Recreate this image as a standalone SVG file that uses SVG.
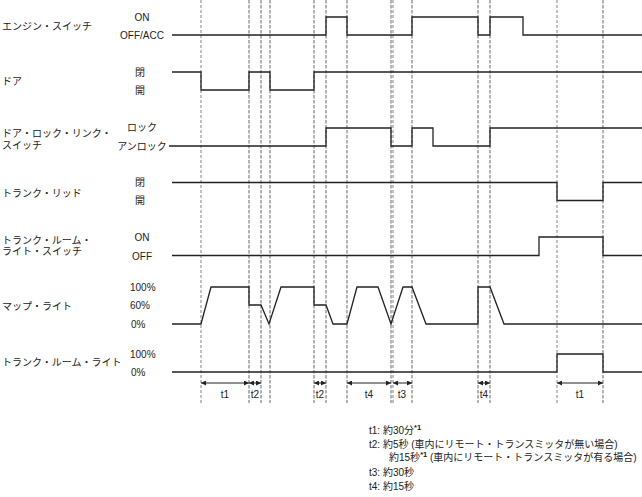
<svg xmlns="http://www.w3.org/2000/svg" width="642" height="497" viewBox="0 0 642 497">
<style>
text{font-family:"Liberation Sans","Noto Sans CJK JP",sans-serif;font-size:10px;fill:#222}
.mid{text-anchor:middle}
.sig{fill:none;stroke:#222;stroke-width:1.3}
.gd{stroke:#666;stroke-width:1;stroke-dasharray:3.5 1.5}
.gl{stroke:#bbb;stroke-width:1.8;stroke-dasharray:3 2}
.arr{stroke:#222;stroke-width:1;marker-start:url(#ah);marker-end:url(#ah)}
.sup{font-size:7.5px;font-weight:bold}
</style>
<defs>
<marker id="ah" viewBox="0 0 6 6" refX="6" refY="3" markerWidth="5" markerHeight="5" orient="auto-start-reverse" markerUnits="userSpaceOnUse">
<path d="M0,0 L6,3 L0,6 Z" fill="#222"/>
</marker>
</defs>
<rect width="642" height="497" fill="#fff"/>
<g id="guides">
<line class="gl" x1="201" y1="0" x2="201" y2="403"/>
<line class="gd" x1="249" y1="0" x2="249" y2="403"/>
<line class="gd" x1="261" y1="0" x2="261" y2="403"/>
<line class="gd" x1="270" y1="0" x2="270" y2="403"/>
<line class="gd" x1="314" y1="0" x2="314" y2="403"/>
<line class="gd" x1="326" y1="0" x2="326" y2="403"/>
<line class="gd" x1="347" y1="0" x2="347" y2="403"/>
<line class="gd" x1="391" y1="0" x2="391" y2="403"/>
<line class="gl" x1="393" y1="0" x2="393" y2="403"/>
<line class="gd" x1="412" y1="0" x2="412" y2="403"/>
<line class="gd" x1="478" y1="0" x2="478" y2="403"/>
<line class="gd" x1="490" y1="0" x2="490" y2="403"/>
<line class="gl" x1="557" y1="0" x2="557" y2="403"/>
<line class="gd" x1="603" y1="0" x2="603" y2="403"/>
</g>
<g id="engine-switch">
<text x="2" y="29.5">エンジン・スイッチ</text>
<text class="mid" x="142" y="20.5">ON</text>
<text class="mid" x="142" y="38.5">OFF/ACC</text>
<path class="sig" d="M172,35 H326 V17 H347 V35 H412 V17 H478 V35 H490 V17 H523 V35 H642"/>
</g>
<g id="door">
<text x="2" y="84.5">ドア</text>
<text class="mid" x="140" y="75.5">閉</text>
<text class="mid" x="140" y="93.5">開</text>
<path class="sig" d="M172,72 H201 V90 H249 V72 H270 V90 H314 V72 H642"/>
</g>
<g id="door-lock-switch">
<text x="2" y="136.5">ドア・ロック・リンク・</text>
<text x="2" y="148.5">スイッチ</text>
<text class="mid" x="142" y="131">ロック</text>
<text class="mid" x="142" y="149.5">アンロック</text>
<path class="sig" d="M169,146 H326 V128 H391 V146 H412 V128 H433 V146 H490 V128 H642"/>
</g>
<g id="trunk-lid">
<text x="2" y="196.5">トランク・リッド</text>
<text class="mid" x="140" y="185.5">閉</text>
<text class="mid" x="140" y="204">開</text>
<path class="sig" d="M172,182.5 H557 V200.5 H603 V182.5 H642"/>
</g>
<g id="trunk-room-light-switch">
<text x="2" y="243.5">トランク・ルーム・</text>
<text x="2" y="254.5">ライト・スイッチ</text>
<text class="mid" x="142" y="241">ON</text>
<text class="mid" x="142" y="259.5">OFF</text>
<path class="sig" d="M172,255.5 H539 V237 H603 V255.5 H642"/>
</g>
<g id="map-light">
<text x="2" y="309.5">マップ・ライト</text>
<text x="130" y="291">100%</text>
<text x="130" y="309">60%</text>
<text x="131" y="327.5">0%</text>
<path class="sig" d="M172,324 L201,324 L211,287 L249,287 L249,305 L261,305 L269,324 L281,287 L314,287 L314,305 L326,305 L333,324 L347,324 L357,287 L378,287 L391,324 L403,287 L412,287 L426,324 L478,324 L478,287 L490,287 L504,324 L642,324"/>
</g>
<g id="trunk-room-light">
<text x="2" y="366">トランク・ルーム・ライト</text>
<text x="130" y="357.5">100%</text>
<text x="131" y="375.5">0%</text>
<path class="sig" d="M172,372 H557 V354 H603 V372 H642"/>
</g>
<g id="connectors">
<line class="arr" x1="201" y1="383" x2="249" y2="383"/>
<line class="arr" x1="249" y1="383" x2="261" y2="383"/>
<line class="arr" x1="314" y1="383" x2="326" y2="383"/>
<line class="arr" x1="347" y1="383" x2="391" y2="383"/>
<line class="arr" x1="393" y1="383" x2="412" y2="383"/>
<line class="arr" x1="478" y1="383" x2="490" y2="383"/>
<line class="arr" x1="557" y1="383" x2="603" y2="383"/>
</g>
<g id="timing-labels">
<text class="mid" x="225" y="397.5">t1</text>
<text class="mid" x="255" y="397.5">t2</text>
<text class="mid" x="320" y="397.5">t2</text>
<text class="mid" x="369" y="397.5">t4</text>
<text class="mid" x="402" y="397.5">t3</text>
<text class="mid" x="484" y="397.5">t4</text>
<text class="mid" x="580" y="397.5">t1</text>
</g>
<g id="notes">
<text x="369" y="434">t1: 約30分<tspan class="sup" dy="-4">*1</tspan></text>
<text x="369" y="447.5">t2: 約5秒 (車内にリモート・トランスミッタが無い場合)</text>
<text x="389" y="461">約15秒<tspan class="sup" dy="-4">*1</tspan><tspan dy="4"> (車内にリモート・トランスミッタが有る場合)</tspan></text>
<text x="369" y="475.5">t3: 約30秒</text>
<text x="369" y="489.5">t4: 約15秒</text>
</g>
</svg>
